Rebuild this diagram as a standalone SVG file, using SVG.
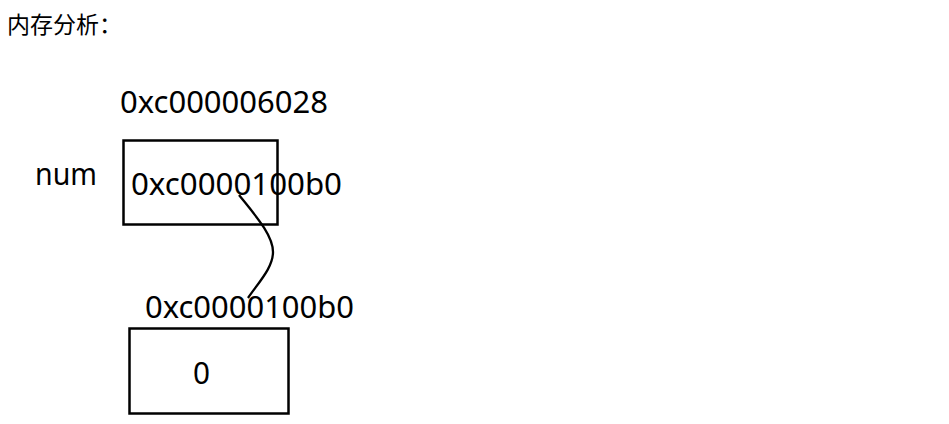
<svg xmlns="http://www.w3.org/2000/svg" width="949" height="424" viewBox="0 0 949 424">
<style>
.t{font-family:"Noto Sans","Liberation Sans","Noto Sans CJK SC",sans-serif;font-size:30px;fill:#000}
.c{font-family:"Noto Sans CJK SC","Noto Sans",sans-serif;font-size:23px;fill:#000}
.box{fill:none;stroke:#000;stroke-width:2.5}
.link{fill:none;stroke:#000;stroke-width:2.3}
</style>
<rect width="949" height="424" fill="#fff"/>
<text class="c" x="7" y="33">内存分析：</text>
<g id="num-label"><text class="t" x="35" y="185" textLength="62" lengthAdjust="spacingAndGlyphs">num</text></g>
<g id="num-node">
<text class="t" x="120" y="113" textLength="208" lengthAdjust="spacingAndGlyphs">0xc000006028</text>
<rect class="box" x="123.5" y="140.5" width="154" height="84"/>
<text class="t" x="131" y="195" textLength="211" lengthAdjust="spacingAndGlyphs">0xc0000100b0</text>
</g>
<g id="value-node">
<text class="t" x="145" y="318" textLength="209" lengthAdjust="spacingAndGlyphs">0xc0000100b0</text>
<rect class="box" x="129.5" y="328.5" width="159" height="85"/>
<text class="t" x="193" y="384" textLength="17" lengthAdjust="spacingAndGlyphs">0</text>
</g>
<g id="connectors">
<path class="link" d="M239,195 C255,215 273,235 273,252 C273,268 258,283 248,298"/>
</g>
</svg>
